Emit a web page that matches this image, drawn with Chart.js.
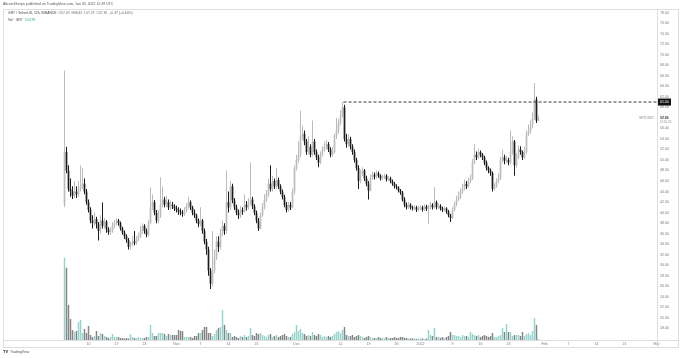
<!DOCTYPE html>
<html>
<head>
<meta charset="utf-8">
<script src="https://cdn.jsdelivr.net/npm/chart.js@4.4.1/dist/chart.umd.min.js"></script>
<style>
  html, body { margin: 0; padding: 0; background: #fff; }
</style>
</head>
<body>
<canvas id="chart" width="680" height="358"></canvas>
<script>
// GRT / TetherUS, 12h candles, Oct 4 2021 -> Jan 30 2022 (index = half-day since Oct 4)
const opens = [41.5,51.5,48.0,44.5,44.0,43.2,44.0,43.5,44.5,45.0,
 45.5,44.0,42.0,40.5,38.5,38.0,38.8,37.8,36.5,38.5,
 37.5,38.3,36.8,36.3,36.6,37.5,38.0,38.5,38.0,37.0,
 36.2,35.5,34.8,33.5,34.0,34.5,34.2,35.0,35.5,36.5,
 37.5,36.5,35.8,38.0,41.0,42.0,40.0,38.5,39.5,41.5,
 42.5,41.5,42.0,41.0,41.5,41.2,40.8,40.5,40.2,40.0,
 39.8,40.3,41.2,42.0,41.0,40.0,39.5,38.5,37.8,38.5,
 36.5,34.5,33.0,29.0,26.5,29.0,31.5,34.5,33.5,36.0,
 37.5,36.5,42.0,41.0,45.0,42.3,41.0,40.0,39.5,40.5,
 40.2,41.5,41.0,42.0,42.5,41.2,40.0,38.5,37.0,39.5,
 41.0,42.5,43.5,45.5,44.5,46.0,45.0,46.2,45.0,44.0,
 43.0,41.5,40.5,41.5,41.0,44.0,48.5,50.0,51.0,54.5,
 55.0,53.5,51.5,52.5,51.0,53.5,51.5,50.5,49.5,51.0,
 52.0,52.5,53.0,52.0,51.0,51.5,54.5,55.5,57.0,58.5,
 60.0,54.0,53.0,54.0,52.5,51.5,50.0,48.5,46.0,47.5,
 48.0,46.5,45.5,44.2,46.5,47.2,46.8,47.5,47.0,46.5,
 46.8,47.0,46.3,46.5,46.0,45.5,45.0,44.8,44.2,43.8,
 42.5,41.5,41.0,41.5,41.0,40.8,41.0,40.5,40.8,41.0,
 40.6,41.2,40.7,41.0,41.5,41.0,42.0,41.0,41.3,40.8,
 40.5,40.8,40.2,39.5,39.0,40.5,41.5,42.5,43.0,44.0,
 44.5,45.5,45.0,46.0,46.5,49.5,51.0,50.5,51.5,51.0,
 50.5,49.5,48.5,48.0,47.5,44.5,45.0,46.0,46.5,50.0,
 50.5,49.8,50.0,49.5,51.5,53.5,49.0,50.5,52.0,51.5,
 50.5,51.5,55.0,55.5,56.5,58.0,61.5,57.45];

const highs = [67.0,52.5,49.0,46.5,45.0,46.0,45.0,46.0,49.0,48.5,
 46.5,44.5,42.5,41.0,39.5,40.0,39.2,38.2,39.5,41.9,
 39.0,38.6,37.2,37.2,38.2,38.6,39.0,38.8,38.3,37.3,
 36.6,35.9,35.2,34.5,35.5,36.5,35.6,36.2,37.5,38.0,
 37.8,37.0,38.6,44.8,43.5,42.4,40.5,40.5,46.7,45.0,
 43.0,43.2,42.5,42.3,42.0,41.6,41.3,41.0,40.8,40.5,
 41.0,41.8,43.0,42.3,41.3,40.6,39.8,38.9,41.0,38.8,
 37.0,35.0,33.5,29.5,36.5,33.0,35.5,35.5,37.0,38.5,
 38.0,48.0,44.0,46.0,45.5,42.8,41.5,40.6,41.3,41.0,
 43.5,42.2,42.8,49.5,43.0,41.6,40.4,39.0,40.0,41.8,
 43.5,44.3,46.5,49.0,47.0,46.5,48.5,46.6,45.4,44.4,
 43.4,42.0,42.0,42.0,44.6,49.0,51.0,53.5,59.4,56.5,
 55.6,54.0,54.5,53.0,57.5,54.0,52.0,51.0,51.6,52.6,
 53.5,53.8,53.4,52.4,52.5,55.0,58.0,57.8,59.5,61.0,
 60.5,55.0,54.8,54.4,53.0,52.0,50.4,49.0,48.2,48.6,
 48.3,47.0,46.0,47.3,47.8,47.6,48.0,47.8,47.3,47.2,
 47.4,47.3,46.9,46.8,46.3,45.8,45.4,45.0,44.5,44.1,
 42.9,41.9,42.0,41.8,41.3,41.4,41.3,41.2,41.4,41.3,
 41.6,41.5,41.5,42.0,41.8,44.8,42.3,41.8,41.6,41.1,
 41.2,41.0,40.5,39.8,41.0,42.0,43.2,44.0,44.6,45.5,
 46.3,46.0,46.6,47.2,50.2,53.0,51.6,52.2,51.8,51.3,
 50.8,49.9,48.8,48.4,47.8,45.6,46.5,47.5,50.6,52.0,
 51.0,50.8,50.4,55.6,54.5,53.8,51.3,52.8,52.6,51.8,
 52.5,55.6,56.8,57.5,59.0,64.6,62.0,58.45];

const lows = [41.0,47.5,44.0,43.0,42.6,42.8,42.8,43.0,44.0,44.5,
 43.5,41.5,40.0,38.0,37.0,37.5,37.0,34.7,36.0,37.0,
 37.0,36.2,35.8,35.8,36.2,37.0,37.6,37.5,36.6,35.8,
 35.0,34.3,33.0,33.0,33.6,33.8,33.9,34.6,35.2,36.0,
 36.0,35.3,35.5,37.8,40.5,39.5,38.0,38.0,39.0,41.0,
 41.0,41.0,40.5,40.6,40.7,40.3,40.0,39.6,39.5,39.2,
 39.4,40.0,40.8,40.5,39.5,39.0,38.0,37.2,37.4,36.0,
 34.0,32.0,28.0,25.5,26.0,28.5,31.0,32.5,33.0,35.5,
 35.8,36.0,40.0,40.5,41.8,40.5,39.5,38.8,39.0,39.6,
 40.0,40.4,40.6,41.5,40.7,39.5,38.0,36.5,36.8,39.2,
 40.6,42.0,43.0,44.0,44.0,44.5,44.6,44.5,43.5,42.5,
 41.0,40.0,40.2,40.5,40.8,43.5,48.0,49.5,50.5,53.8,
 52.8,51.0,51.0,50.5,50.7,51.0,50.0,48.6,49.2,50.6,
 51.6,52.0,51.5,50.5,50.6,51.2,54.0,55.0,56.6,58.0,
 53.5,52.3,52.5,52.0,51.0,49.5,48.0,44.5,45.6,47.0,
 46.0,45.0,42.5,44.0,46.2,46.3,46.5,46.6,46.1,46.2,
 46.4,45.9,46.0,45.6,45.1,44.6,44.4,43.8,43.4,42.1,
 41.0,40.6,40.7,40.6,40.4,40.5,40.1,40.2,40.5,40.2,
 40.3,40.3,37.9,40.6,40.6,40.8,40.6,40.7,40.4,40.1,
 40.2,39.8,39.1,38.2,38.8,40.2,41.2,42.2,42.6,43.6,
 44.2,44.5,44.7,45.6,46.2,49.2,50.0,50.2,50.5,50.0,
 49.0,48.0,47.5,47.0,44.0,44.2,44.7,45.6,46.2,49.5,
 49.2,49.4,49.0,49.2,51.0,47.0,48.6,50.2,51.0,50.0,
 50.2,51.2,54.6,55.0,56.0,57.6,57.0,57.29];

const closes = [51.5,48.0,44.5,44.0,43.2,44.0,43.5,44.5,45.0,45.5,
 44.0,42.0,40.5,38.5,38.0,38.8,37.8,36.5,38.5,37.5,
 38.3,36.8,36.3,36.6,37.5,38.0,38.5,38.0,37.0,36.2,
 35.5,34.8,33.5,34.0,34.5,34.2,35.0,35.5,36.5,37.5,
 36.5,35.8,38.0,41.0,42.0,40.0,38.5,39.5,41.5,42.5,
 41.5,42.0,41.0,41.5,41.2,40.8,40.5,40.2,40.0,39.8,
 40.3,41.2,42.0,41.0,40.0,39.5,38.5,37.8,38.5,36.5,
 34.5,33.0,29.0,26.5,29.0,31.5,34.5,33.5,36.0,37.5,
 36.5,42.0,41.0,45.0,42.3,41.0,40.0,39.5,40.5,40.2,
 41.5,41.0,42.0,42.5,41.2,40.0,38.5,37.0,39.5,41.0,
 42.5,43.5,45.5,44.5,46.0,45.0,46.2,45.0,44.0,43.0,
 41.5,40.5,41.5,41.0,44.0,48.5,50.0,51.0,54.5,55.0,
 53.5,51.5,52.5,51.0,53.5,51.5,50.5,49.5,51.0,52.0,
 52.5,53.0,52.0,51.0,51.5,54.5,55.5,57.0,58.5,60.0,
 54.0,53.0,54.0,52.5,51.5,50.0,48.5,46.0,47.5,48.0,
 46.5,45.5,44.2,46.5,47.2,46.8,47.5,47.0,46.5,46.8,
 47.0,46.3,46.5,46.0,45.5,45.0,44.8,44.2,43.8,42.5,
 41.5,41.0,41.5,41.0,40.8,41.0,40.5,40.8,41.0,40.6,
 41.2,40.7,41.0,41.5,41.0,42.0,41.0,41.3,40.8,40.5,
 40.8,40.2,39.5,39.0,40.5,41.5,42.5,43.0,44.0,44.5,
 45.5,45.0,46.0,46.5,49.5,51.0,50.5,51.5,51.0,50.5,
 49.5,48.5,48.0,47.5,44.5,45.0,46.0,46.5,50.0,50.5,
 49.8,50.0,49.5,51.5,53.5,49.0,50.5,52.0,51.5,50.5,
 51.5,55.0,55.5,56.5,58.0,61.5,57.45,57.81];

const volumes = [8200,7200,3500,2100,1000,800,900,1800,2000,700,
 1100,700,1400,500,300,400,900,400,700,600,
 400,300,200,300,600,300,300,300,200,200,
 150,200,150,600,300,200,200,300,200,200,
 200,300,300,1500,700,400,400,700,700,700,
 600,400,600,500,500,500,500,1000,900,900,
 300,300,300,300,200,400,400,700,700,1000,
 1300,1300,700,700,400,600,1000,1200,1300,3000,
 1500,1000,700,700,300,400,300,200,400,300,
 500,300,400,1200,500,400,700,600,700,500,
 400,300,500,600,300,400,500,300,400,500,
 600,400,300,300,600,800,1500,900,1100,700,
 600,400,500,400,800,500,400,600,500,300,
 400,300,400,300,400,600,800,900,700,1000,
 1300,500,400,400,500,300,400,500,400,300,
 200,300,400,300,200,200,200,300,200,200,
 200,300,200,200,200,300,200,200,300,300,
 200,200,150,150,150,150,100,150,150,150,
 100,150,1000,500,400,1200,300,300,200,300,
 200,300,400,800,500,500,400,400,300,500,
 400,400,300,800,600,500,400,500,300,400,
 500,400,300,400,700,300,300,400,500,1200,
 800,1600,800,800,400,500,500,500,400,800,
 400,600,700,500,900,2200,1500,100];

// time axis labels (position = half-day index since Oct 4)
const xTickIdx = [12,26,40,56,68,82,96,116,138,152,166,178,194,208,222,240,252,266,280,296];
const xTickLabels = ['10','17','24','Nov','7','14','21','Dec','12','19','26','2022','9','16','23','Feb','7','14','21','Mar'];
const priceTicks = [18,20,22,24,26,28,30,32,34,36,38,40,42,44,46,48,50,52,54,56,58,60,62,64,66,68,70,72,74,76,78];

// horizontal level drawn from the december high
const levelPrice = 61.00;
const levelStart = 139.5;

const upCol = '#bcbcbc', downCol = '#1c1c1c';
const volUp = '#95d4cd', volDown = '#858585';
const isUp = i => closes[i] >= opens[i];

const idx = closes.map((c, i) => i);

const overlay = {
  id: 'overlay',
  afterDraw(chart) {
    const ctx = chart.ctx;
    const ys = chart.scales.y;
    const ca = chart.chartArea;
    ctx.save();
    // frame
    ctx.strokeStyle = '#dedede';
    ctx.lineWidth = 1;
    ctx.beginPath();
    ctx.rect(3.5, 9.5, 675, 338);
    ctx.moveTo(3.5, ca.bottom + 0.5); ctx.lineTo(678.5, ca.bottom + 0.5);
    ctx.moveTo(ca.right + 0.5, 9.5); ctx.lineTo(ca.right + 0.5, 347.5);
    ctx.stroke();

    ctx.textBaseline = 'middle';
    ctx.font = '3.5px "Liberation Sans"';
    ctx.fillStyle = '#555';
    ctx.fillText('AltcoinSherpa published on TradingView.com, Jan 30, 2022 12:49 UTC', 3, 4.5);

    // legend
    ctx.font = '3.4px "Liberation Sans"';
    ctx.fillStyle = '#444';
    let t = 'GRT / TetherUS, 12h, BINANCE  ';
    ctx.fillText(t, 8, 13);
    let x = 8 + ctx.measureText(t).width;
    ctx.fillStyle = '#666';
    ctx.fillText('O57.45  H58.45  L57.29  C57.81  +0.37 (+0.64%)', x, 13);
    t = 'Vol · GRT  ';
    ctx.fillStyle = '#444';
    ctx.fillText(t, 8, 20.5);
    x = 8 + ctx.measureText(t).width;
    ctx.fillStyle = '#26a69a';
    ctx.fillText('5.027K', x, 20.5);

    // level tag
    ctx.font = '3.5px "Liberation Sans"';
    const yl = ys.getPixelForValue(levelPrice);
    ctx.fillStyle = '#131313';
    ctx.fillRect(ca.right + 1, yl - 3.5, 13, 7);
    ctx.fillStyle = '#fff';
    ctx.fillText(levelPrice.toFixed(2), ca.right + 3, yl);

    // last price
    const last = closes[closes.length - 1];
    const yp = ys.getPixelForValue(last);
    ctx.fillStyle = '#333';
    ctx.fillText(last.toFixed(2), ca.right + 3, yp - 1);
    ctx.fillStyle = '#888';
    ctx.font = '3px "Liberation Sans"';
    ctx.fillText('11:10:20', ca.right + 3, yp + 3);
    ctx.font = '3.2px "Liberation Sans"';
    ctx.textAlign = 'right';
    ctx.fillText('GRTUSDT', ca.right - 3, yp - 1);

    // footer logo
    ctx.textAlign = 'left';
    ctx.fillStyle = '#222';
    ctx.font = 'bold 4px "Liberation Sans"';
    ctx.fillText('TV', 3, 352);
    ctx.font = '3.5px "Liberation Sans"';
    ctx.fillStyle = '#555';
    ctx.fillText('TradingView', 10, 352);
    ctx.restore();
  }
};

new Chart(document.getElementById('chart'), {
  type: 'bar',
  data: {
    datasets: [
      {
        type: 'line',
        data: [{x: levelStart, y: levelPrice}, {x: 296.25, y: levelPrice}],
        borderColor: '#3a3a3a',
        borderWidth: 1,
        borderDash: [3, 2],
        pointRadius: 0,
        yAxisID: 'y',
        order: 0
      },
      {
        label: 'body',
        data: idx.map(i => ({x: i, y: [opens[i], closes[i]]})),
        backgroundColor: idx.map(i => isUp(i) ? upCol : downCol),
        barThickness: 1.7,
        inflateAmount: 0,
        grouped: false,
        yAxisID: 'y',
        order: 1
      },
      {
        label: 'wick',
        data: idx.map(i => ({x: i, y: [lows[i], highs[i]]})),
        backgroundColor: idx.map(i => isUp(i) ? upCol : downCol),
        barThickness: 1,
        inflateAmount: 0,
        grouped: false,
        yAxisID: 'y',
        order: 2
      },
      {
        label: 'volume',
        data: idx.map(i => ({x: i, y: volumes[i]})),
        backgroundColor: idx.map(i => isUp(i) ? volUp : volDown),
        barThickness: 1.5,
        inflateAmount: 0,
        grouped: false,
        yAxisID: 'yv',
        order: 3
      }
    ]
  },
  options: {
    responsive: false,
    animation: false,
    events: [],
    layout: { padding: { left: 4, top: 9, right: 2, bottom: 10 } },
    plugins: { legend: { display: false }, tooltip: { enabled: false } },
    scales: {
      x: {
        type: 'linear',
        offset: false,
        min: -30.25,
        max: 296.25,
        grid: { display: false, drawTicks: false },
        border: { display: false },
        afterBuildTicks: s => { s.ticks = xTickIdx.map(v => ({value: v})); },
        afterFit: s => { s.height = 8; },
        ticks: {
          autoSkip: false,
          maxRotation: 0,
          padding: 2,
          color: '#7a7a7a',
          font: { size: 3.6, family: 'Liberation Sans' },
          callback: (v, i) => xTickLabels[i]
        }
      },
      y: {
        position: 'right',
        min: 15.81,
        max: 78.67,
        grid: { display: false, drawTicks: false },
        border: { display: false },
        afterBuildTicks: s => { s.ticks = priceTicks.map(v => ({value: v})); },
        afterFit: s => { s.width = 21; },
        ticks: {
          padding: 3,
          color: '#7a7a7a',
          font: { size: 3.6, family: 'Liberation Sans' },
          callback: v => v.toFixed(2)
        }
      },
      yv: {
        display: false,
        min: 0,
        max: 33000
      }
    }
  },
  plugins: [overlay]
});
</script>
</body>
</html>
